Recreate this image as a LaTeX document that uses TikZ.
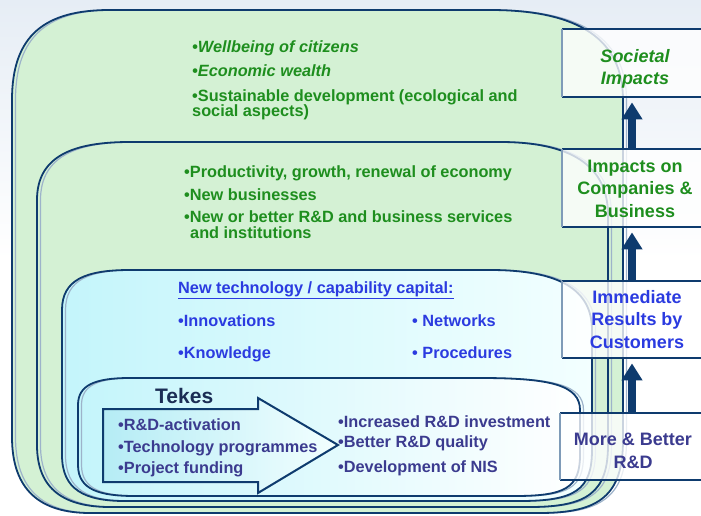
\documentclass[tikz,border=0pt]{standalone}
\usepackage{fontspec}
\setmainfont{Liberation Sans}
\usetikzlibrary{arrows.meta,calc}
\definecolor{navy}{HTML}{0E3B6E}
\definecolor{shadowblue}{HTML}{9DB3CA}
\definecolor{boxleft}{HTML}{7F9BB8}
\definecolor{gtext}{HTML}{1E8E1E}
\definecolor{btext}{HTML}{2B3BE0}
\definecolor{ttext}{HTML}{3B3B8F}
\definecolor{tekes}{HTML}{1B2D55}
\definecolor{bgblue}{HTML}{E6EDF5}
\definecolor{greenA}{HTML}{D4F1D4}
\definecolor{greenB}{HTML}{EEF9EE}
\definecolor{cyanA}{HTML}{C4F5FB}
\definecolor{cyanB}{HTML}{F3FFFF}
\definecolor{arrowcyan}{HTML}{B5ECF5}
\tikzset{
  shapeA/.style={insert path={(12,100) .. controls (12,35) and (45,10) .. (110,10) -- (490,10) .. controls (580,10) and (623,40) .. (623,100) -- (623,440) .. controls (623,495) and (600,513) .. (540,513) -- (90,513) .. controls (40,513) and (12,490) .. (12,437) -- cycle}},
  shapeB/.style={insert path={(37,200) .. controls (37,155) and (75,142) .. (130,142) -- (500,142) .. controls (570,142) and (608,165) .. (608,215) -- (608,445) .. controls (608,492) and (588,507) .. (530,507) -- (110,507) .. controls (65,507) and (37,490) .. (37,445) -- cycle}},
  shapeC/.style={insert path={(62,310) .. controls (62,280) and (85,270) .. (130,270) -- (490,270) .. controls (560,270) and (592,290) .. (592,330) -- (592,450) .. controls (592,490) and (575,501) .. (520,501) -- (125,501) .. controls (85,501) and (62,490) .. (62,455) -- cycle}},
  shapeD/.style={insert path={(78,405) .. controls (78,385) and (95,378) .. (130,378) -- (480,378) .. controls (550,378) and (580,385) .. (580,410) -- (580,455) .. controls (580,488) and (565,496) .. (515,496) -- (135,496) .. controls (100,496) and (78,490) .. (78,465) -- cycle}},
  outline/.style={draw=navy, line width=1.8pt},
  shadowline/.style={draw=shadowblue, line width=1.2pt, xshift=3.5pt},
  rbox/.style={rectangle, anchor=north west, inner sep=0pt, minimum width=150pt, fill=white, fill opacity=0.78, draw=none},
  boxedge/.style={draw=navy, line width=2pt},
  boxleftedge/.style={draw=boxleft, line width=1.6pt},
  uparr/.style={draw=navy, line width=8pt, -{Triangle[width=20pt,length=17pt]}, shorten >=5pt},
  txt/.style={inner sep=0pt, anchor=base west, font=\fontsize{16.3}{16}\selectfont\bfseries},
  gtxt/.style={txt, text=gtext},
  gitxt/.style={txt, text=gtext, font=\fontsize{16.3}{16}\selectfont\bfseries\itshape},
  btxt/.style={txt, text=btext},
  ttxt/.style={txt, text=ttext},
  boxtxt/.style={inner sep=0pt, anchor=base, align=center, font=\fontsize{18}{22.5}\selectfont\bfseries},
}
\begin{document}
\begin{tikzpicture}[x=1pt,y=-1pt]
\useasboundingbox (0,0) rectangle (701,516);
\clip (0,0) rectangle (701,516);
\fill[white] (0,0) rectangle (701,516);
\shade[top color=bgblue, bottom color=white] (0,0) rectangle (701,260);
% nested shapes
\path[shapeA, top color=greenA, middle color=greenB, bottom color=greenA];
\path[shadowline, shapeA];
\path[outline, shapeA];
\path[shapeB, top color=greenA, middle color=white, bottom color=greenA];
\path[shadowline, shapeB];
\path[outline, shapeB];
\path[shapeC, left color=cyanA, right color=cyanB];
\path[shadowline, shapeC];
\path[outline, shapeC];
\path[shapeD, left color=cyanA, right color=white];
\path[shadowline, shapeD];
\path[outline, shapeD];
% Tekes arrow
\path[left color=arrowcyan, right color=cyanB, draw=navy, line width=2pt, line join=miter]
  (103,409) -- (258,409) -- (258,398) -- (338,445) -- (258,493) -- (258,482) -- (103,482) -- cycle;
% right boxes
\node[rbox, minimum height=68pt] (soc) at (562,29) {};
\node[rbox, minimum height=78pt] (comp) at (562,149) {};
\node[rbox, minimum height=77pt] (imm) at (562,281) {};
\node[rbox, minimum height=67pt] (more) at (560,413) {};
\foreach \b in {soc,comp,imm,more}{
  \draw[boxedge] (\b.north east) -- (\b.north west);
  \draw[boxedge] (\b.south west) -- (\b.south east);
  \draw[boxleftedge] (\b.north west) -- (\b.south west);
}
\coordinate (ax) at (632,0);
\draw[uparr] (comp.north -| ax) -- (soc.south -| ax);
\draw[uparr] (imm.north -| ax) -- (comp.south -| ax);
\draw[uparr] (more.north -| ax) -- (imm.south -| ax);
% box texts (base anchor = last line)
\node[boxtxt, text=gtext, font=\fontsize{18}{22.5}\selectfont\bfseries\itshape] (socT) at (635,85) {Societal\\Impacts};
\node[boxtxt, text=gtext] (compT) at (635,217) {Impacts on\\Companies \&\\Business};
\node[boxtxt, text=btext] (immT) at (637,348) {Immediate\\Results by\\Customers};
\node[boxtxt, text=ttext] (moreT) at (633,468) {More \& Better\\R\&D};
% societal texts
\node[gitxt] (s1) at (192,53) {•Wellbeing of citizens};
\node[gitxt] (s2) at (192,77) {•Economic wealth};
\node[gtxt] (s3) at (192,102) {•Sustainable development (ecological and};
\node[gtxt] (s4) at (192,117) {social aspects)};
% company texts
\node[gtxt] (c1) at (184,177) {•Productivity, growth, renewal of economy};
\node[gtxt] (c2) at (184,200) {•New businesses};
\node[gtxt] (c3) at (184,222) {•New or better R\&D and business services};
\node[gtxt] (c4) at (190,238) {and institutions};
% immediate texts
\node[btxt] (i0) at (178,293) {\underline{New technology / capability capital:}};
\node[btxt] (i1) at (178,326) {•Innovations};
\node[btxt] (i2) at (178,358) {•Knowledge};
\node[btxt] (i3) at (412,326) {• Networks};
\node[btxt] (i4) at (412,358) {• Procedures};
% tekes texts
\node[txt, text=tekes, font=\fontsize{21}{21}\selectfont\bfseries] (tk) at (155,403) {Tekes};
\node[ttxt] (t1) at (118,430) {•R\&D-activation};
\node[ttxt] (t2) at (118,452) {•Technology programmes};
\node[ttxt] (t3) at (118,473) {•Project funding};
\node[ttxt] (r1) at (338,427) {•Increased R\&D investment};
\node[ttxt] (r2) at (338,447) {•Better R\&D quality};
\node[ttxt] (r3) at (338,472) {•Development of NIS};
\end{tikzpicture}
\end{document}
